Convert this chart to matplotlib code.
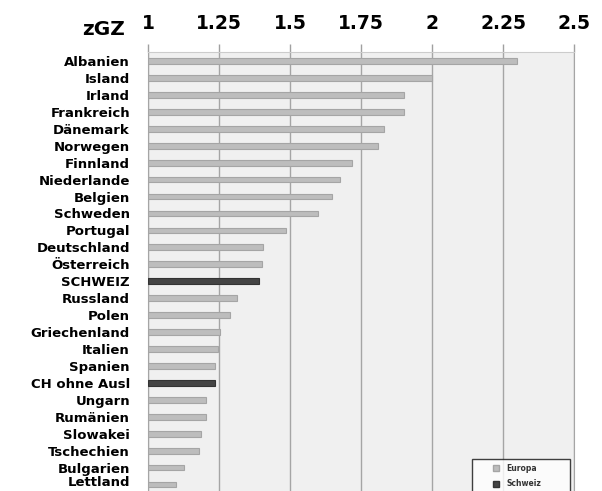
import matplotlib
matplotlib.use("Agg")
import matplotlib.pyplot as plt
import matplotlib.transforms as mtransforms
from matplotlib.lines import Line2D

countries = ["Albanien", "Island", "Irland", "Frankreich", "Dänemark", "Norwegen",
             "Finnland", "Niederlande", "Belgien", "Schweden", "Portugal",
             "Deutschland", "Österreich", "SCHWEIZ", "Russland", "Polen",
             "Griechenland", "Italien", "Spanien", "CH ohne Ausl", "Ungarn",
             "Rumänien", "Slowakei", "Tschechien", "Bulgarien", "Lettland"]
values = [2.30, 2.00, 1.90, 1.90, 1.83, 1.81, 1.72, 1.675, 1.647, 1.60, 1.486,
          1.405, 1.40, 1.39, 1.315, 1.288, 1.255, 1.246, 1.235, 1.235, 1.205,
          1.205, 1.185, 1.18, 1.126, 1.10]
groups = ["Europa"] * 13 + ["Schweiz"] + ["Europa"] * 5 + ["Schweiz"] + ["Europa"] * 6
xticks = [1, 1.25, 1.5, 1.75, 2, 2.25, 2.5]
xtick_labels = ["1", "1.25", "1.5", "1.75", "2", "2.25", "2.5"]

fill = {"Europa": "#bdbdbd", "Schweiz": "#444444"}
edge = {"Europa": "#a5a5a5", "Schweiz": "#333333"}

fig = plt.figure(figsize=(6.02, 4.91), dpi=100)
ax = fig.add_axes([148 / 602, 0, (574 - 148) / 602, (491 - 52) / 491])
ax.set_facecolor("#f0f0f0")

n = len(countries)
ypos = list(range(n))
for y, v, g in zip(ypos, values, groups):
    ax.barh(y, v - 1, left=1, height=0.34, color=fill[g], edgecolor=edge[g],
            linewidth=0.8, zorder=3)

ax.set_xlim(1, 2.5)
ax.set_ylim(n - 1 + 0.38, -0.53)
ax.set_yticks(ypos)
labels = ax.set_yticklabels(countries, fontsize=9.5, fontweight="bold",
                            family="DejaVu Sans", va="center_baseline")
ax.tick_params(axis="y", length=0, pad=13)
# nudge the last label up slightly so it stays inside the canvas
last = labels[-1]
last.set_transform(last.get_transform() +
                   mtransforms.ScaledTranslation(0, 2.5 / 72, fig.dpi_scale_trans))

ax.xaxis.tick_top()
ax.set_xticks(xticks)
ax.set_xticklabels(xtick_labels, fontsize=13.5, fontweight="bold")
ax.tick_params(axis="x", length=6, color="#a0a0a0", width=1, pad=8)
ax.grid(axis="x", color="#a5a5a5", linewidth=1, zorder=1)
for s in ["left", "right"]:
    ax.spines[s].set_color("#a5a5a5")
ax.spines["top"].set_color("#cccccc")
ax.spines["bottom"].set_visible(False)

fig.text(125 / 602, 1 - 35 / 491, "zGZ", ha="right", va="baseline",
         fontsize=14.5, fontweight="bold")

handles = [Line2D([], [], marker="s", linestyle="none", markersize=4,
                  markerfacecolor=fill[g], markeredgecolor=edge[g], label=g)
           for g in ["Europa", "Schweiz"]]
leg = ax.legend(handles=handles, loc="upper left",
                bbox_to_anchor=((472 - 148) / 426, 32 / 439, 98 / 426, 0.0),
                mode="expand", fontsize=5.5, frameon=True, fancybox=False,
                borderpad=0.6, labelspacing=0.9, handlelength=5.0,
                handletextpad=-1.1, borderaxespad=0)
for t in leg.get_texts():
    t.set_fontweight("bold")
    t.set_color("#333333")
leg.get_frame().set_edgecolor("#111111")
leg.get_frame().set_linewidth(1.0)
leg.set_zorder(5)

fig.savefig("out.png", dpi=100)
